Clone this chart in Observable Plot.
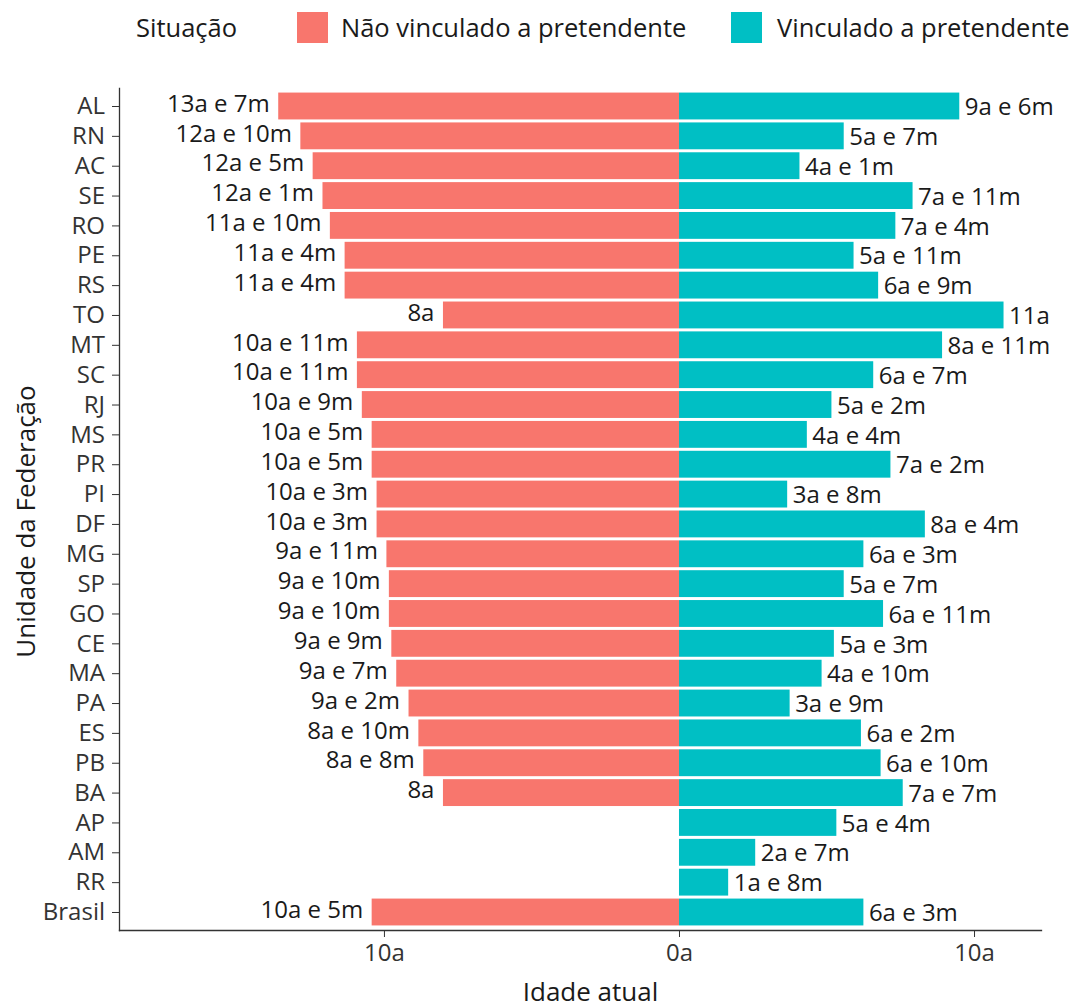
<!DOCTYPE html>
<html>
<head>
<meta charset="utf-8">
<script src="https://cdn.jsdelivr.net/npm/d3@7"></script>
<script src="https://cdn.jsdelivr.net/npm/@observablehq/plot@0.6"></script>
<style>
  html, body { margin: 0; padding: 0; background: #fff; }
  #legend { position: relative; width: 1083px; height: 60px; font-family: "Open Sans", sans-serif; font-size: 25.5px; color: #1a1a1a; }
  #legend .t { position: absolute; top: 12px; height: 31px; line-height: 31px; white-space: nowrap; }
  #legend .sw { position: absolute; top: 12px; width: 31px; height: 31px; }
</style>
</head>
<body>
<div id="legend">
  <span class="t" style="left:136px">Situação</span>
  <span class="sw" style="left:297px;background:#F8766D"></span>
  <span class="t" style="left:341px">Não vinculado a pretendente</span>
  <span class="sw" style="left:731px;background:#00BFC4"></span>
  <span class="t" style="left:777px">Vinculado a pretendente</span>
</div>
<div id="chart"></div>
<script>
const ufs = ["AL","RN","AC","SE","RO","PE","RS","TO","MT","SC","RJ","MS","PR","PI","DF","MG","SP","GO","CE","MA","PA","ES","PB","BA","AP","AM","RR","Brasil"];
const naoAnos  = [13,12,12,12,11,11,11,8,10,10,10,10,10,10,10,9,9,9,9,9,9,8,8,8,null,null,null,10];
const naoMeses = [7,10,5,1,10,4,4,0,11,11,9,5,5,3,3,11,10,10,9,7,2,10,8,0,null,null,null,5];
const vincAnos  = [9,5,4,7,7,5,6,11,8,6,5,4,7,3,8,6,5,6,5,4,3,6,6,7,5,2,1,6];
const vincMeses = [6,7,1,11,4,11,9,0,11,7,2,4,2,8,4,3,7,11,3,10,9,2,10,7,4,7,8,3];
const xTicks = [-10, 0, 10];

const fmt = (a, m) => m ? `${a}a e ${m}m` : `${a}a`;

const naoData = ufs.map((uf, i) => naoAnos[i] == null ? null :
  ({uf, value: naoAnos[i] + naoMeses[i] / 12, label: fmt(naoAnos[i], naoMeses[i])})).filter(d => d);
const vincData = ufs.map((uf, i) =>
  ({uf, value: vincAnos[i] + vincMeses[i] / 12, label: fmt(vincAnos[i], vincMeses[i])}));

const chart = Plot.plot({
  width: 1083,
  height: 947,
  marginTop: 28,
  marginBottom: 77,
  marginLeft: 119,
  marginRight: 42,
  style: {fontFamily: "Open Sans", background: "#fff"},
  x: {domain: [-18.98, 12.27]},
  y: {domain: ufs, paddingInner: 0.1, paddingOuter: 0.153, round: false},
  marks: [
    Plot.barX(naoData, {x1: 0, x2: d => -d.value, y: "uf", fill: "#F8766D"}),
    Plot.barX(vincData, {x1: 0, x2: "value", y: "uf", fill: "#00BFC4"}),
    Plot.text(naoData, {x: d => -d.value, y: "uf", text: "label", textAnchor: "end", dx: -9, dy: -2.5, fontSize: 24, fill: "#1a1a1a"}),
    Plot.text(vincData, {x: "value", y: "uf", text: "label", textAnchor: "start", dx: 5, dy: 1, fontSize: 24, fill: "#1a1a1a"}),
    Plot.axisY({tickSize: 7, tickPadding: 7.5, fontSize: 24, label: null, color: "#333"}),
    Plot.axisX({ticks: xTicks, tickFormat: d => Math.abs(d) + "a", tickSize: 7, tickPadding: 6.4, fontSize: 24, label: null, color: "#333"}),
    Plot.frame({anchor: "left", stroke: "#333", strokeWidth: 1.3}),
    Plot.frame({anchor: "bottom", stroke: "#333", strokeWidth: 1.3}),
    Plot.text(["Idade atual"], {frameAnchor: "bottom", text: d => d, textAnchor: "middle", lineAnchor: "bottom", dx: 10, dy: 70, fontSize: 26, fill: "#1a1a1a"}),
    Plot.text(["Unidade da Federação"], {frameAnchor: "left", text: d => d, rotate: -90, textAnchor: "middle", lineAnchor: "bottom", dx: -85, dy: 12, fontSize: 26, fill: "#1a1a1a"})
  ]
});
document.getElementById("chart").appendChild(chart);
</script>
</body>
</html>
